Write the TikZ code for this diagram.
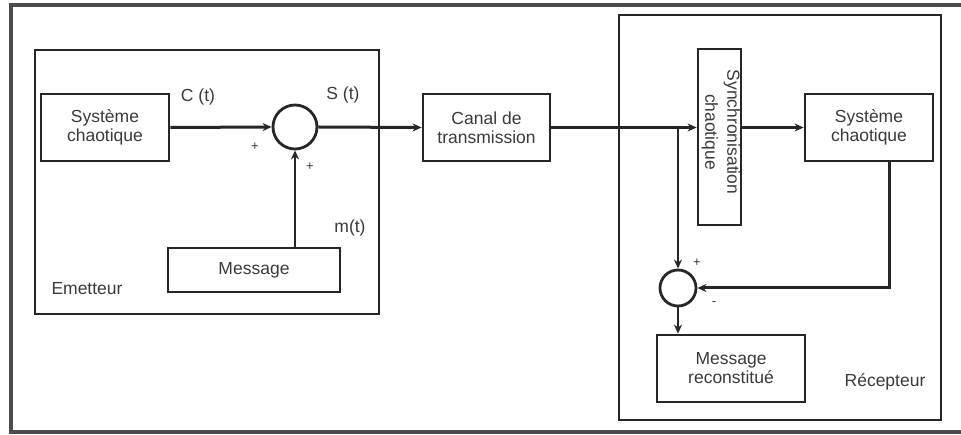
\documentclass[tikz,border=0pt]{standalone}
\usepackage{fontspec}
\setmainfont{Liberation Sans}
\usetikzlibrary{arrows.meta,calc}
\definecolor{ln}{HTML}{262626}
\definecolor{tx}{HTML}{3A3A3A}
\begin{document}
\begin{tikzpicture}[x=1pt,y=-1pt,
  every node/.style={font=\fontsize{17.5}{19}\selectfont, text=tx},
  blk/.style={draw=ln, line width=2.8pt, rectangle, inner sep=0pt, align=center},
  grp/.style={draw=ln, line width=2.8pt},
  sumnode/.style={draw=ln, line width=2.8pt, circle, inner sep=0pt},
  conn/.style={draw=ln, line width=3pt, -{Stealth[length=9pt,width=8pt]}},
  thinconn/.style={conn, line width=2.4pt},
  sign/.style={font=\fontsize{13}{13}\selectfont, inner sep=0pt},
  lab/.style={inner sep=0pt},
  vtext/.style={rotate=-90, inner sep=0pt}]
\useasboundingbox (0,0) rectangle (961,435);
% outer frame
\draw[line width=3.2pt, draw=black!70] (965,5) -- (11,5) -- (11,432) -- (965,432);
% groups
\draw[grp] (35,50) rectangle (379,314);
\draw[grp] (619,15) rectangle (941,420);
% blocks
\node[blk, minimum width=128pt, minimum height=67pt] (sys1) at (105,127.5) {Système\\chaotique};
\node[sumnode, minimum size=44pt] (sum1) at (295,127) {};
\node[blk, minimum width=127pt, minimum height=67pt] (canal) at (486.5,127.5) {Canal de\\transmission};
\node[blk, minimum width=172pt, minimum height=44pt] (msg) at (254,270) {Message};
\node[blk, minimum width=43pt, minimum height=176pt] (sync) at (719.5,137) {};
\node[vtext] (synct1) at (732,132) {Synchronisation};
\node[vtext] (synct2) at (710,132) {chaotique};
\node[blk, minimum width=128pt, minimum height=67pt] (sys2) at (869,127.5) {Système\\chaotique};
\node[sumnode, minimum size=36pt] (sum2) at (678,288) {};
\node[blk, minimum width=148pt, minimum height=67pt] (msgr) at (731,368.5) {Message\\reconstitué};
% labels
\node[lab] (lc) at (198,97) {C (t)};
\node[lab] (ls) at (343,95) {S (t)};
\node[lab] (lm) at (350,228) {m(t)};
\node[lab] (le) at (87,289) {Emetteur};
\node[lab] (lr) at (885,382) {Récepteur};
\node[sign] (p1) at (255,147) {+};
\node[sign] (p2) at (310,167) {+};
\node[sign] (p3) at (697,263) {+};
\node[sign] (m3) at (714,304) {-};
% connectors
\draw[conn] (sys1.east) -- (sum1.west);
\draw[conn] (sum1.east) -- (canal.west);
\draw[thinconn] (sum1 |- msg.north) -- (sum1.south);
\draw[conn] (canal.east) -- (sync.west |- canal.east);
\coordinate (br) at (sum2 |- canal.east);
\draw[thinconn] (br) -- (sum2.north);
\draw[conn] (sync.east |- sys2.west) -- (sys2.west);
\draw[conn] ([xshift=20pt]sys2.south) |- (sum2.east);
\draw[thinconn] (sum2.south) -- (sum2.south |- msgr.north);
\end{tikzpicture}
\end{document}
